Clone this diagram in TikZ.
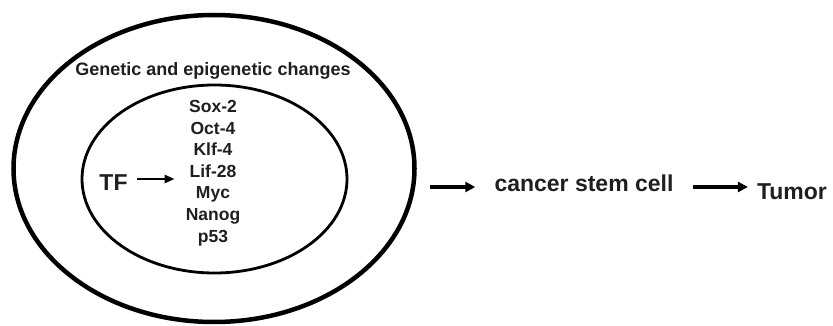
\documentclass[tikz,border=0pt]{standalone}
\usepackage{fontspec}
\setmainfont{Liberation Sans}
\usetikzlibrary{arrows.meta}
\usetikzlibrary{shapes.geometric}
\colorlet{textgray}{black!88}

\begin{document}
\begin{tikzpicture}[x=1pt, y=-1pt,
    ring/.style={draw, ellipse, inner sep=0pt},
    label/.style={text=textgray, font=\bfseries, inner sep=1pt},
    flow/.style={-{Triangle[length=10pt, width=10pt]}, line width=3.2pt}]
        % page size
        \useasboundingbox (0,0) rectangle (833,326);
        % rings
        \node[ring, line width=4.5pt, minimum width=401pt, minimum height=307pt] (outer) at (214,168.5) {};
        \node[ring, line width=2.8pt, minimum width=265pt, minimum height=188pt] (inner) at (214.5,179) {};
        % texts
        \node[label, font=\bfseries\fontsize{18}{20}\selectfont] (changes) at (213,71) {Genetic and epigenetic changes};
        \node[label, align=center, font=\bfseries\fontsize{17.5}{21.6}\selectfont] (factors) at (213,173)
        {Sox-2\\Oct-4\\Klf-4\\Lif-28\\Myc\\Nanog\\p53};
        \node[label, font=\bfseries\fontsize{23}{25}\selectfont] (TF) at (113.5,183) {TF};
        \node[label, anchor=base, font=\bfseries\fontsize{23}{26}\selectfont] (csc) at (584,192) {cancer stem cell};
        \node[label, anchor=base, font=\bfseries\fontsize{23}{26}\selectfont] (tumor) at (792,200) {Tumor};
        % arrow height
        \coordinate (flowy) at (0,187);
        \coordinate (tfy) at (0,179);
        % arrows
        \draw[-{Triangle[length=10pt, width=8pt]}, line width=2.6pt, shorten <=8pt, shorten >=10pt]
        (TF.east |- tfy) -- (factors.west |- tfy);
        \draw[flow, shorten <=13pt, shorten >=18pt] (outer.east |- flowy) -- (csc.west |- flowy);
        \draw[flow, shorten <=18pt, shorten >=8pt] (csc.east |- flowy) -- (tumor.west |- flowy);
    \end{tikzpicture}
\end{document}
